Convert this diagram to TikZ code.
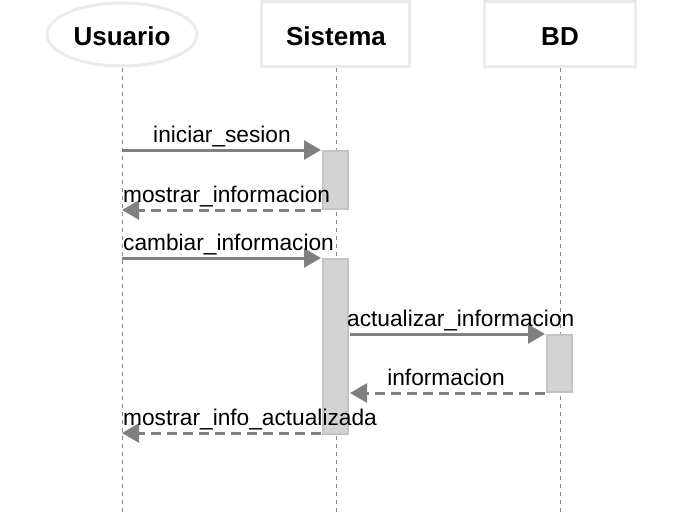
\documentclass[tikz,border=0pt]{standalone}
\usepackage{fontspec}
\setmainfont{Liberation Sans}
\usetikzlibrary{arrows.meta}
\definecolor{boxline}{HTML}{EBEBEB}
\definecolor{msg}{HTML}{808080}
\definecolor{actfill}{HTML}{D3D3D3}
\definecolor{actline}{HTML}{C4C4C4}
\definecolor{life}{HTML}{8A8A8A}
\begin{document}
\begin{tikzpicture}[x=1pt,y=-1pt,
  actor/.style={draw=boxline,line width=3pt,fill=white},
  hdr/.style={font=\fontsize{26}{30}\selectfont\bfseries,anchor=base},
  lifeline/.style={draw=life,line width=1pt,dash pattern=on 4pt off 4pt},
  act/.style={draw=actline,fill=actfill,line width=2pt},
  msgsync/.style={draw=msg,line width=3pt,-{Triangle[length=17pt,width=19pt]}},
  msgret/.style={draw=msg,line width=3pt,dash pattern=on 10pt off 6pt,-{Triangle[length=17pt,width=19pt]}},
  lbl/.style={font=\fontsize{22.7}{27}\selectfont,anchor=base}
]
\useasboundingbox (0,0) rectangle (693,514);
% actors
\draw[actor] (122,34.5) ellipse [x radius=75, y radius=31.5];
\draw[actor] (261.5,1.5) rectangle (409.5,66.5);
\draw[actor] (484.5,1.5) rectangle (635.5,66.5);
\node[hdr] (hu) at (122,45) {Usuario};
\node[hdr] (hs) at (336,45) {Sistema};
\node[hdr] (hb) at (560,45) {BD};
% lifelines
\coordinate (u0) at (122,68); \coordinate (u1) at (122,514);
\coordinate (s0) at (336,68); \coordinate (s1) at (336,514);
\coordinate (b0) at (560,68); \coordinate (b1) at (560,514);
\draw[lifeline] (u0) -- (u1);
\draw[lifeline] (s0) -- (s1);
\draw[lifeline] (b0) -- (b1);
% activations
\node[act,minimum width=25pt,minimum height=58pt,inner sep=0pt] (a1) at (335.5,180) {};
\node[act,minimum width=25pt,minimum height=175pt,inner sep=0pt] (a2) at (335.5,346.5) {};
\node[act,minimum width=25pt,minimum height=57pt,inner sep=0pt] (a3) at (559.5,363.5) {};
% message end points
\coordinate (m1s) at (122,150); \coordinate (m1e) at (321,150);
\coordinate (m2s) at (321,210); \coordinate (m2e) at (122,210);
\coordinate (m3s) at (122,258); \coordinate (m3e) at (321,258);
\coordinate (m4s) at (350,334); \coordinate (m4e) at (545,334);
\coordinate (m5s) at (545,393); \coordinate (m5e) at (350,393);
\coordinate (m6s) at (321,433); \coordinate (m6e) at (122,433);
\draw[msgsync] (m1s) -- (m1e);
\draw[msgret] (m2s) -- (m2e);
\draw[msgsync] (m3s) -- (m3e);
\draw[msgsync] (m4s) -- (m4e);
\draw[msgret] (m5s) -- (m5e);
\draw[msgret] (m6s) -- (m6e);
% labels
\node[lbl] (l1) at (222,142) {iniciar\_sesion};
\node[lbl,anchor=base west,inner sep=0pt] (l2) at (123,202) {mostrar\_informacion};
\node[lbl,anchor=base west,inner sep=0pt] (l3) at (123,250) {cambiar\_informacion};
\node[lbl,anchor=base west,inner sep=0pt] (l4) at (347,326) {actualizar\_informacion};
\node[lbl] (l5) at (446,385) {informacion};
\node[lbl,anchor=base west,inner sep=0pt] (l6) at (123,425) {mostrar\_info\_actualizada};
\end{tikzpicture}
\end{document}
